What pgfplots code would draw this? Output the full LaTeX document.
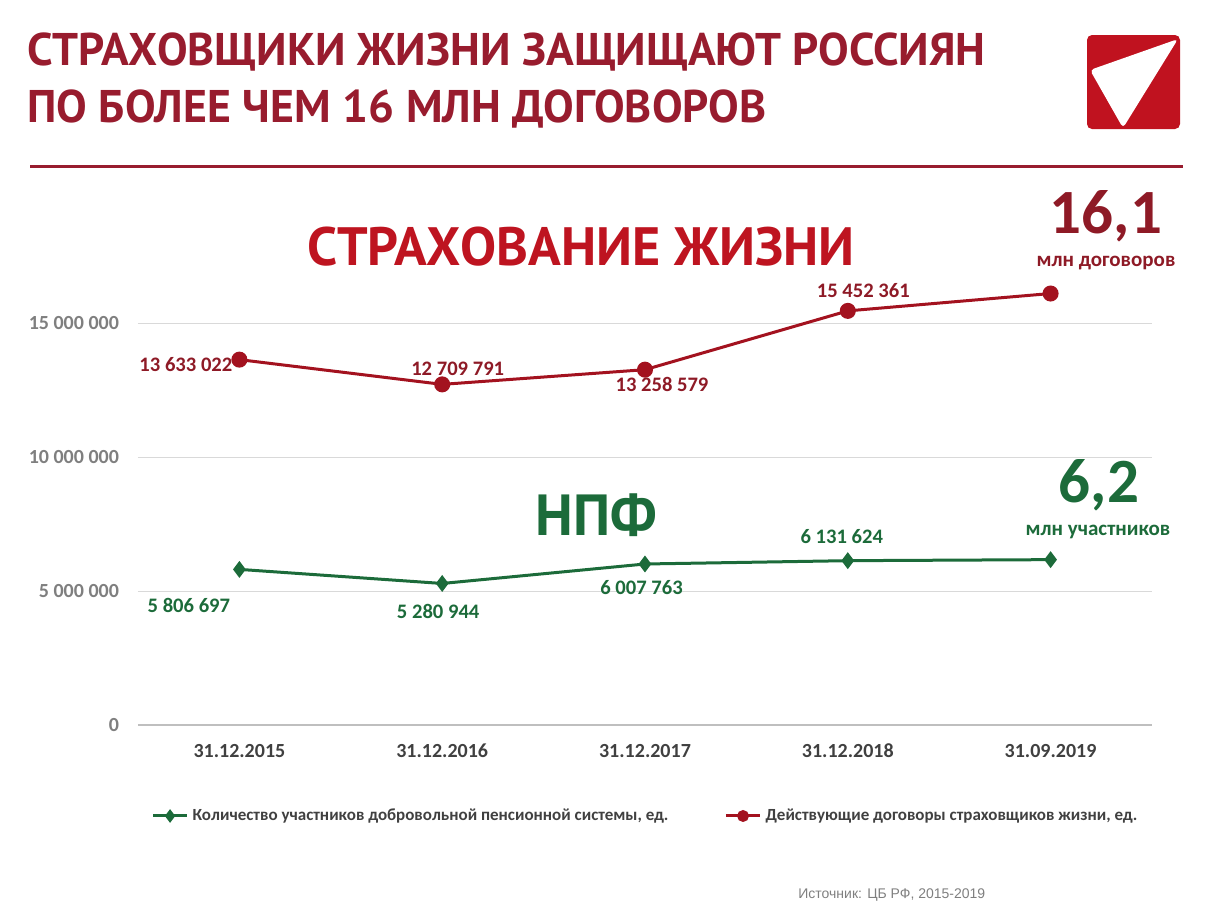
\documentclass[border=0pt]{standalone}
\usepackage{fontspec}
\setmainfont{Carlito}
\newfontfamily\ptsans{PT Sans}
\newfontfamily\arial{Liberation Sans}
\usepackage{pgfplots}
\pgfplotsset{compat=1.18}

\definecolor{titlered}{HTML}{981C2E}
\definecolor{headred}{HTML}{BE1420}
\definecolor{linered}{HTML}{A3121F}
\definecolor{labred}{HTML}{8E1A26}
\definecolor{npfgreen}{HTML}{1C6B3A}
\definecolor{tickgray}{HTML}{7F7F7F}
\definecolor{gridgray}{HTML}{D9D9D9}
\definecolor{axisgray}{HTML}{BFBFBF}
\definecolor{txtgray}{HTML}{404040}
\definecolor{logored}{HTML}{C0121F}

\begin{document}
\begin{tikzpicture}[x=0.5pt,y=-0.5pt]
% header
\node[anchor=base west,inner sep=0,text=titlered,font=\ptsans\bfseries\fontsize{22.9}{26}\selectfont]
  at (27,65) {СТРАХОВЩИКИ ЖИЗНИ ЗАЩИЩАЮТ РОССИЯН};
\node[anchor=base west,inner sep=0,text=titlered,font=\ptsans\bfseries\fontsize{22.9}{26}\selectfont]
  at (27,122) {ПО БОЛЕЕ ЧЕМ 16 МЛН ДОГОВОРОВ};
\draw[titlered,line width=1.5pt] (30,166) -- (1183,166);
% logo
\fill[logored,rounded corners=2.5pt] (1087,35) rectangle (1180,129);
\fill[white,rounded corners=2pt] (1178,39) -- (1090,70) -- (1123,128) -- cycle;

\coordinate (O) at (138,725);
\begin{axis}[
  at={(O)}, anchor=south west,
  scale only axis, width=507pt, height=234.5pt,
  xmin=-0.5, xmax=4.5, ymin=0, ymax=17500000,
  clip=false,
  axis line style={draw=none}, tick style={draw=none},
  xtick={0,1,2,3,4},
  xticklabels={31.12.2015,31.12.2016,31.12.2017,31.12.2018,31.09.2019},
  ytick={5000000,10000000,15000000},
  yticklabels={5 000 000,10 000 000,15 000 000},
  extra y ticks={0}, extra y tick labels={0},
  extra y tick style={grid style={color=axisgray,line width=0.7pt}},
  scaled y ticks=false,
  ymajorgrids, grid style={color=gridgray,line width=0.5pt},
  ticklabel style={font=\bfseries\fontsize{10}{12}\selectfont},
  yticklabel style={text=tickgray,xshift=-6pt},
  xticklabel style={text=txtgray,yshift=-6pt},
  nodes near coords,
  point meta=explicit symbolic,
  visualization depends on={value \thisrow{dx} \as \dx},
  visualization depends on={value \thisrow{dy} \as \dy},
  every node near coord/.append style={anchor=center,xshift=\dx pt,yshift=\dy pt,
    font=\bfseries\fontsize{10.3}{12}\selectfont},
  legend style={at={(rel axis cs:0.007,-0.194)},anchor=west,draw=none,fill=none,
    legend columns=2,font=\bfseries\fontsize{8.5}{10}\selectfont,text=txtgray,
    /tikz/every even column/.append style={column sep=26pt}},
  legend image post style={mark size=2.2pt},
  legend cell align=left,
]
\addplot[npfgreen,line width=1.5pt,mark=diamond*,mark size=3pt,
  every node near coord/.append style={text=npfgreen}]
  table[col sep=comma,row sep=\\,meta=lab] {
  x,y,lab,dx,dy\\
  0,5806697,5 806 697,-25.25,-18\\
  1,5280944,5 280 944,-2,-14\\
  2,6007763,6 007 763,-1.75,-12\\
  3,6131624,6 131 624,-3,12\\
  4,6170000,{},0,0\\
};
\addlegendentry{Количество участников добровольной пенсионной системы, ед.}
\addplot[linered,line width=1.5pt,mark=*,mark size=3.25pt,
  every node near coord/.append style={text=labred}]
  table[col sep=comma,row sep=\\,meta=lab] {
  x,y,lab,dx,dy\\
  0,13633022,13 633 022,-26.75,-2.5\\
  1,12709791,12 709 791,7.75,8\\
  2,13258579,13 258 579,8.5,-7.5\\
  3,15452361,15 452 361,7.75,10\\
  4,16100000,{},0,0\\
};
\addlegendentry{Действующие договоры страховщиков жизни, ед.}
\end{axis}

% annotations
\node[anchor=base west,inner sep=0,text=headred,font=\ptsans\bfseries\fontsize{27}{30}\selectfont]
  at (307,265) {СТРАХОВАНИЕ ЖИЗНИ};
\node[anchor=base west,inner sep=0,text=npfgreen,font=\ptsans\bfseries\fontsize{29}{32}\selectfont]
  at (535,535) {НПФ};
\node[anchor=base,inner sep=0,text=labred,font=\bfseries\fontsize{31.5}{34}\selectfont]
  at (1106,233) {16,1};
\node[anchor=base,inner sep=0,text=labred,font=\bfseries\fontsize{10.5}{12}\selectfont]
  at (1106,266) {млн договоров};
\node[anchor=base,inner sep=0,text=npfgreen,font=\bfseries\fontsize{31.5}{34}\selectfont]
  at (1099,502) {6,2};
\node[anchor=base,inner sep=0,text=npfgreen,font=\bfseries\fontsize{10.5}{12}\selectfont]
  at (1098,535) {млн участников};
\node[anchor=base west,inner sep=0,text=tickgray,font=\arial\fontsize{7}{8}\selectfont]
  at (798,898) {Источник: ЦБ РФ, 2015-2019};

\pgfresetboundingbox
\path (0,0) rectangle (1212,911);
\end{tikzpicture}
\end{document}
